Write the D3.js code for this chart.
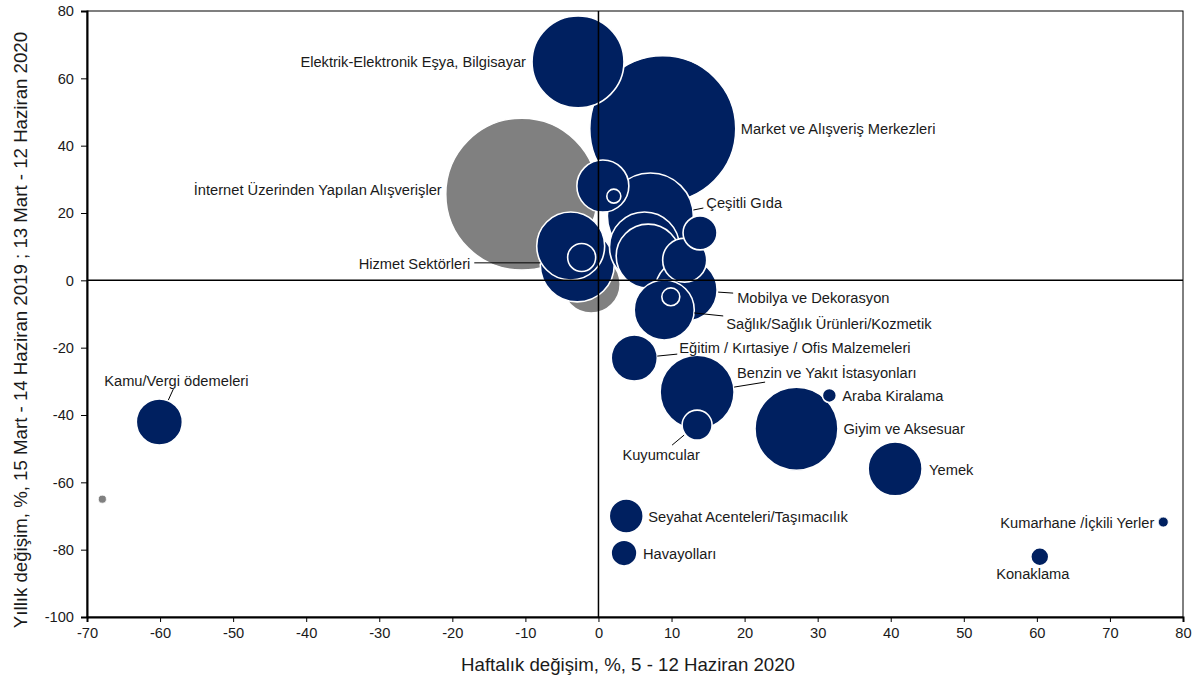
<!DOCTYPE html>
<html>
<head>
<meta charset="utf-8">
<script src="https://cdn.jsdelivr.net/npm/d3@7"></script>
<style>
  html, body { margin: 0; padding: 0; background: #fff; }
  svg { display: block; font-family: "Liberation Sans", Arial, sans-serif; }
</style>
</head>
<body>
<svg id="chart" width="1200" height="684"></svg>
<script>
// ---------------- DATA ----------------
const names = [
  "İnternet Üzerinden Yapılan Alışverişler",
  "Market ve Alışveriş Merkezleri",
  "Elektrik-Elektronik Eşya, Bilgisayar",
  "Çeşitli Gıda",
  "Giyim ve Aksesuar",
  "Hizmet Sektörleri",
  "Benzin ve Yakıt İstasyonları",
  "Diğer 1",
  "Diğer 2",
  "Mobilya ve Dekorasyon",
  "Diğer 3",
  "Sağlık/Sağlık Ürünleri/Kozmetik",
  "İnternet Diğer",
  "Yemek",
  "Diğer 4",
  "Kamu/Vergi ödemeleri",
  "Eğitim / Kırtasiye / Ofis Malzemeleri",
  "Diğer 5",
  "Diğer 6",
  "Seyahat Acenteleri/Taşımacılık",
  "Kuyumcular",
  "Diğer 7",
  "Havayolları",
  "Konaklama",
  "Diğer 8",
  "Diğer 9",
  "Araba Kiralama",
  "Kumarhane /İçkili Yerler",
  "İnternet Diğer 2"
];
// Haftalık değişim, % (x)
const weekly = [-10.5, 8.8, -2.8, 7.1, 27.1, -2.9, 13.5, 6.3, -3.8, 12.0, 6.8, 9.0, -1.0, 40.6, 0.6, -60.1, 4.9, 11.8, 13.9, 3.8, 13.5, -2.3, 3.5, 60.4, 9.9, 2.1, 31.6, 77.3, -67.9];
// Yıllık değişim, % (y)
const yearly = [25.6, 45.0, 64.9, 19.1, -44.1, 4.6, -33.2, 9.9, 10.2, -2.9, 7.2, -8.8, -1.1, -56.0, 28.0, -42.1, -23.1, 6.0, 14.1, -70.0, -43.0, 6.8, -81.0, -82.1, -4.9, 25.0, -34.2, -71.8, -65.0];
// bubble size (relative weight)
const sizes = [100, 92.3, 36.6, 32.0, 29.8, 23.7, 23.7, 21.2, 20.0, 16.6, 17.7, 15.6, 14.6, 12.6, 11.7, 9.2, 9.2, 8.4, 5.0, 5.0, 3.9, 3.4, 2.9, 1.4, 1.4, 0.85, 0.85, 0.43, 0.28];
// group: "online" (gray) or "kart" (navy)
const groups = ["online","kart","kart","kart","kart","kart","kart","kart","kart","kart","kart","kart","online","kart","kart","kart","kart","kart","kart","kart","kart","kart","kart","kart","kart","kart","kart","kart","online"];

const xTicks = [-70,-60,-50,-40,-30,-20,-10,0,10,20,30,40,50,60,70,80];
const yTicks = [-100,-80,-60,-40,-20,0,20,40,60,80];

const xTitle = "Haftalık değişim, %, 5 - 12 Haziran 2020";
const yTitle = "Yıllık değişim, %, 15 Mart - 14 Haziran 2019 ; 13 Mart - 12 Haziran 2020";

// label layout (offsets from bubble centre, px) and leader lines
const labelLayout = {
  "İnternet Üzerinden Yapılan Alışverişler": {dx:-80, dy:1, anchor:"end"},
  "Market ve Alışveriş Merkezleri": {dx:78, dy:5, anchor:"start"},
  "Elektrik-Elektronik Eşya, Bilgisayar": {dx:-52, dy:5, anchor:"end"},
  "Çeşitli Gıda": {dx:56, dy:-8, anchor:"start", line:[43,-6,53,-8]},
  "Giyim ve Aksesuar": {dx:47, dy:5, anchor:"start"},
  "Hizmet Sektörleri": {dx:-107, dy:4, anchor:"end", line:[-103,-2,-37,-2]},
  "Benzin ve Yakıt İstasyonları": {dx:40, dy:-14, anchor:"start", line:[37,-5,68,-10]},
  "Mobilya ve Dekorasyon": {dx:51, dy:13, anchor:"start", line:[32,2,47,3]},
  "Sağlık/Sağlık Ürünleri/Kozmetik": {dx:62, dy:19, anchor:"start", line:[30,3,59,6]},
  "Yemek": {dx:34, dy:6, anchor:"start"},
  "Kamu/Vergi ödemeleri": {dx:17, dy:-36, anchor:"middle", line:[9,-22,14,-33]},
  "Eğitim / Kırtasiye / Ofis Malzemeleri": {dx:45, dy:-5, anchor:"start", line:[23,-2,43,-4]},
  "Seyahat Acenteleri/Taşımacılık": {dx:22, dy:6, anchor:"start"},
  "Kuyumcular": {dx:-36, dy:35, anchor:"middle", line:[-13,10,-25,20]},
  "Havayolları": {dx:19, dy:6, anchor:"start"},
  "Konaklama": {dx:-7, dy:22, anchor:"middle"},
  "Araba Kiralama": {dx:13, dy:6, anchor:"start"},
  "Kumarhane /İçkili Yerler": {dx:-9, dy:6, anchor:"end"}
};

// ---------------- CHART ----------------
const W = 1200, H = 684;
const margin = {left: 87, right: 17, top: 11, bottom: 67};
const pw = W - margin.left - margin.right;
const ph = H - margin.top - margin.bottom;
const FONT_LBL = "14.67px", FONT_TTL = "18.67px";

const svg = d3.select("#chart");
const g = svg.append("g").attr("transform", `translate(${margin.left},${margin.top})`);

const x = d3.scaleLinear().domain([-70, 80]).range([0, pw]);
const y = d3.scaleLinear().domain([-100, 80]).range([ph, 0]);
const r = d3.scaleSqrt().domain([0, 100]).range([0, 76]);
const color = d3.scaleOrdinal().domain(["kart","online"]).range(["#002060","#808080"]);

const data = names.map((n, i) => ({name: n, x: weekly[i], y: yearly[i], s: sizes[i], g: groups[i]}));
// gray (online) series drawn first, then navy by size descending
const drawOrder = data.slice().sort((a, b) =>
  (a.g === b.g ? 0 : (a.g === "online" ? -1 : 1)) || (b.s - a.s));

// frame (top/right)
g.append("rect").attr("x", 0).attr("y", 0).attr("width", pw).attr("height", ph)
  .attr("fill", "none").attr("stroke", "#000").attr("stroke-width", 1);

// bubbles
g.append("g").selectAll("circle").data(drawOrder).join("circle")
  .attr("cx", d => x(d.x)).attr("cy", d => y(d.y)).attr("r", d => r(d.s))
  .attr("fill", d => color(d.g))
  .attr("stroke", "#fff").attr("stroke-width", d => r(d.s) > 5 ? 1.6 : 0.8);

// zero lines
g.append("line").attr("x1", x(0)).attr("x2", x(0)).attr("y1", 0).attr("y2", ph)
  .attr("stroke", "#000").attr("stroke-width", 1.5);
g.append("line").attr("x1", 0).attr("x2", pw).attr("y1", y(0)).attr("y2", y(0))
  .attr("stroke", "#000").attr("stroke-width", 1.5);

// axes
const xAxis = g.append("g").attr("transform", `translate(0,${ph})`)
  .call(d3.axisBottom(x).tickValues(xTicks).tickSize(5).tickPadding(4).tickFormat(d => String(d)));
const yAxis = g.append("g")
  .call(d3.axisLeft(y).tickValues(yTicks).tickSize(6).tickPadding(7).tickFormat(d => String(d)));
[xAxis, yAxis].forEach(a => {
  a.select(".domain").attr("stroke", "#000").attr("stroke-width", 2);
  a.selectAll(".tick line").attr("stroke", "#000").attr("stroke-width", 1);
  a.selectAll(".tick text").attr("fill", "#1a1a1a")
    .style("font-size", FONT_LBL).style("font-family", "'Liberation Sans', Arial, sans-serif");
});
xAxis.selectAll(".tick text").attr("dy", "0.85em");

// labels
const labeled = data.filter(d => labelLayout[d.name]);
const lg = g.append("g");
labeled.forEach(d => {
  const L = labelLayout[d.name];
  const cx = x(d.x), cy = y(d.y);
  if (L.line) {
    lg.append("line")
      .attr("x1", cx + L.line[0]).attr("y1", cy + L.line[1])
      .attr("x2", cx + L.line[2]).attr("y2", cy + L.line[3])
      .attr("stroke", "#000").attr("stroke-width", 1);
  }
  lg.append("text").attr("x", cx + L.dx).attr("y", cy + L.dy)
    .attr("text-anchor", L.anchor).attr("fill", "#1a1a1a")
    .style("font-size", FONT_LBL).text(d.name);
});

// axis titles
svg.append("text").attr("x", 628).attr("y", 671).attr("text-anchor", "middle")
  .attr("fill", "#1a1a1a").style("font-size", FONT_TTL).text(xTitle);
svg.append("text").attr("transform", "translate(27,330) rotate(-90)").attr("text-anchor", "middle")
  .attr("fill", "#1a1a1a").style("font-size", FONT_TTL).text(yTitle);
</script>
</body>
</html>
